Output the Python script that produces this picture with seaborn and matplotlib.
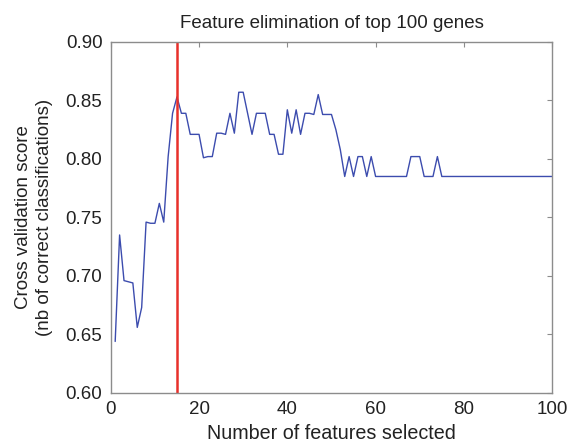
import matplotlib
matplotlib.use("Agg")
import matplotlib.pyplot as plt
import seaborn as sns
import pandas as pd

# ---------------------------
# DATA
# ---------------------------
n_features = list(range(1, 101))

cv_scores = [
    0.644, 0.735, 0.696, 0.695, 0.694, 0.656, 0.673, 0.746, 0.745, 0.745,
    0.762, 0.746, 0.802, 0.839, 0.853, 0.839, 0.839, 0.821, 0.821, 0.821,
    0.801, 0.802, 0.802, 0.822, 0.822, 0.821, 0.839, 0.822, 0.857, 0.857,
    0.839, 0.821, 0.839, 0.839, 0.839, 0.821, 0.821, 0.804, 0.804, 0.842,
    0.822, 0.842, 0.821, 0.839, 0.839, 0.838, 0.855, 0.838, 0.838, 0.838,
    0.825, 0.808, 0.785, 0.802, 0.785, 0.802, 0.802, 0.785, 0.802, 0.785,
    0.785, 0.785, 0.785, 0.785, 0.785, 0.785, 0.785, 0.802, 0.802, 0.802,
    0.785, 0.785, 0.785, 0.802, 0.785, 0.785, 0.785, 0.785, 0.785, 0.785,
    0.785, 0.785, 0.785, 0.785, 0.785, 0.785, 0.785, 0.785, 0.785, 0.785,
    0.785, 0.785, 0.785, 0.785, 0.785, 0.785, 0.785, 0.785, 0.785, 0.785,
]

best_n = 15

x_ticks = [0, 20, 40, 60, 80, 100]
y_ticks = [0.60, 0.65, 0.70, 0.75, 0.80, 0.85, 0.90]

df = pd.DataFrame({"n": n_features, "score": cv_scores})

# ---------------------------
# STYLE
# ---------------------------
sns.set_style("white")
plt.rcParams["font.family"] = ["Liberation Sans", "DejaVu Sans"]

fig = plt.figure(figsize=(5.71, 4.46), dpi=100)
ax = fig.add_axes([0.194, 0.119, 0.773, 0.787])

# ---------------------------
# PLOT
# ---------------------------
sns.lineplot(data=df, x="n", y="score", ax=ax, color="#3c4cae", linewidth=1.0)
ax.axvline(best_n, color="#e8302a", linewidth=1.8)

ax.set_xlim(0, 100)
ax.set_ylim(0.60, 0.90)
ax.set_xticks(x_ticks)
ax.set_yticks(y_ticks)
ax.set_yticklabels([f"{v:.2f}" for v in y_ticks])

for s in ax.spines.values():
    s.set_color("#8c8c8c")
    s.set_linewidth(1.0)

ax.tick_params(direction="in", length=3.5, width=0.8, color="#8c8c8c",
               top=True, right=True, labelsize=13.5, labelcolor="#222222", pad=6)

ax.set_title("Feature elimination of top 100 genes", fontsize=13.5, color="#222222", pad=10)
ax.set_xlabel("Number of features selected", fontsize=14.2, color="#222222", labelpad=4)
ax.set_ylabel("Cross validation score\n(nb of correct classifications)", fontsize=13.5,
              color="#222222", labelpad=9, linespacing=1.35)

fig.savefig("out.png", dpi=100)
